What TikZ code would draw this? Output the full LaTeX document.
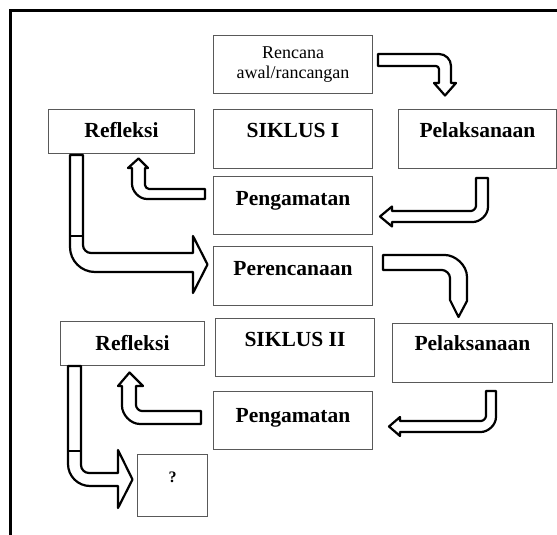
\documentclass[tikz,border=0pt]{standalone}
\usepackage{fontspec}
\setmainfont{Liberation Serif}
\begin{document}
\begin{tikzpicture}[x=1pt,y=-1pt,
  box/.style={draw=black!65, line width=1pt, fill=white, inner sep=0pt, anchor=north west,
    font=\fontsize{21.5}{24}\selectfont\bfseries},
  blockarrow/.style={draw=black, line width=2.2pt, fill=white, line join=round}]
\useasboundingbox (0,0) rectangle (557,535);
% frame
\draw[line width=2.6pt] (557,10.5) -- (10.5,10.5) -- (10.5,535);
% boxes
\node[box, minimum width=159pt, minimum height=58pt, align=center,
  font=\fontsize{18}{20}\selectfont] (ren) at (213,35) {Rencana\\awal/rancangan};
\node[box, minimum width=146pt, text height=28pt, text depth=16pt] (ref1) at (48,109) {Refleksi};
\node[box, minimum width=159pt, text height=28pt, text depth=31pt] (sik1) at (213,109) {SIKLUS I};
\node[box, minimum width=158pt, text height=28pt, text depth=31pt] (pel1) at (398,109) {Pelaksanaan};
\node[box, minimum width=159pt, text height=29pt, text depth=29pt] (pen1) at (213,176) {Pengamatan};
\node[box, minimum width=159pt, text height=29pt, text depth=30pt] (per) at (213,246) {Perencanaan};
\node[box, minimum width=144pt, text height=29pt, text depth=15pt] (ref2) at (60,321) {Refleksi};
\node[box, minimum width=159pt, text height=28pt, text depth=30pt] (sik2) at (215,318) {SIKLUS II};
\node[box, minimum width=160pt, text height=27pt, text depth=32pt] (pel2) at (392,323) {Pelaksanaan};
\node[box, minimum width=159pt, text height=31pt, text depth=27pt] (pen2) at (213,391) {Pengamatan};
\node[box, minimum width=70pt, text height=28pt, text depth=34pt,
  font=\fontsize{16}{18}\selectfont\bfseries] (q) at (137,454) {?};
% arrow 1: Rencana -> Pelaksanaan I
\draw[blockarrow] (378,54) -- (439,54) .. controls (445.6,54) and (451,59.4) .. (451,66) -- (451,83) -- (456,83)
  -- (445,95.5) -- (434,83) -- (439,83) -- (439,69) .. controls (439,67.3) and (437.3,66) .. (436,66) -- (378,66) -- cycle;
% arrow 2: Pelaksanaan I -> Pengamatan I
\draw[blockarrow] (476,178) -- (488,178) -- (488,207) .. controls (488,215.3) and (479.7,222) .. (473,222) -- (392,222)
  -- (392,226.5) -- (380,216.5) -- (392,206.5) -- (392,211) -- (471,211) .. controls (473.2,211) and (476,208.2) .. (476,206) -- cycle;
% arrow 3: Pengamatan I -> Refleksi I
\draw[blockarrow] (205,189) -- (149,189) .. controls (146.8,189) and (145,186.8) .. (145,185) -- (145,168) -- (148,168)
  -- (138.5,158.5) -- (128,168) -- (132,168) -- (132,184) .. controls (132,190.7) and (138.7,199) .. (147,199) -- (205,199) -- cycle;
% arrow 4: Refleksi I -> Perencanaan
\draw[blockarrow] (70,155) -- (83,155) -- (83,245) .. controls (83,249.4) and (86.6,253) .. (91,253) -- (193,253)
  -- (193,236) -- (207.5,264.5) -- (193,293) -- (193,272) -- (95,272) .. controls (81.2,272) and (70,260.8) .. (70,247) -- cycle;
\draw[line width=2.2pt] (70,236) -- (83,236);
% arrow 5: Perencanaan -> Pelaksanaan II
\draw[blockarrow] (383,255) -- (445,255) .. controls (454.9,255) and (467,264.9) .. (467,277) -- (467,301)
  -- (458.5,317) -- (450,300) -- (450,278) .. controls (450,273.6) and (445.6,270) .. (442,270) -- (383,270) -- cycle;
% arrow 6: Pelaksanaan II -> Pengamatan II
\draw[blockarrow] (486,391) -- (496,391) -- (496,417) .. controls (496,425.3) and (487.7,432) .. (481,432) -- (400,432)
  -- (400,436) -- (389,426.5) -- (400,417) -- (400,421) -- (481,421) .. controls (483.2,421) and (486,418.2) .. (486,416) -- cycle;
% arrow 7: Pengamatan II -> Refleksi II
\draw[blockarrow] (201,411) -- (142,411) .. controls (138.7,411) and (136,407.7) .. (136,405) -- (136,386) -- (143,386)
  -- (129.5,372.5) -- (118,386) -- (122,386) -- (122,406) .. controls (122,414.1) and (130.1,424) .. (140,424) -- (201,424) -- cycle;
% arrow 8: Refleksi II -> ?
\draw[blockarrow] (68,366) -- (81,366) -- (81,465) .. controls (81,469.4) and (84.6,473) .. (89,473) -- (118,473)
  -- (118,450) -- (132.5,479.5) -- (118,508) -- (118,486) -- (90,486) .. controls (77.9,486) and (68,476.1) .. (68,464) -- cycle;
\draw[line width=2.2pt] (68,451) -- (81,451);
\end{tikzpicture}
\end{document}
